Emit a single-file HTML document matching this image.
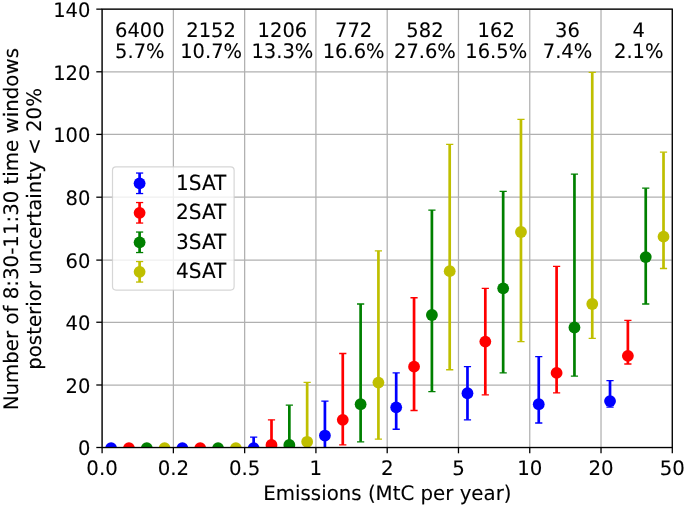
<!DOCTYPE html>
<html><head><meta charset="utf-8"><title>Figure</title>
<style>
html,body{margin:0;padding:0;background:#fff;}
svg{display:block;}
text{font-family:"DejaVu Sans", "Liberation Sans", sans-serif;font-size:19.8px;text-rendering:geometricPrecision;fill:#000;stroke:#000;stroke-width:0.1px;stroke-linejoin:round;}
</style></head>
<body>
<svg width="685" height="508" viewBox="0 0 685 508">
<rect x="0" y="0" width="685" height="508" fill="#ffffff"/>
<defs><clipPath id="ax"><rect x="102.10" y="9.15" width="570.20" height="438.35"/></clipPath></defs>
<g stroke="#b0b0b0" stroke-width="1.25" fill="none">
<line x1="102.10" y1="9.15" x2="102.10" y2="447.50"/>
<line x1="173.38" y1="9.15" x2="173.38" y2="447.50"/>
<line x1="244.65" y1="9.15" x2="244.65" y2="447.50"/>
<line x1="315.92" y1="9.15" x2="315.92" y2="447.50"/>
<line x1="387.20" y1="9.15" x2="387.20" y2="447.50"/>
<line x1="458.47" y1="9.15" x2="458.47" y2="447.50"/>
<line x1="529.75" y1="9.15" x2="529.75" y2="447.50"/>
<line x1="601.02" y1="9.15" x2="601.02" y2="447.50"/>
<line x1="672.30" y1="9.15" x2="672.30" y2="447.50"/>
<line x1="102.10" y1="447.50" x2="672.30" y2="447.50"/>
<line x1="102.10" y1="385.00" x2="672.30" y2="385.00"/>
<line x1="102.10" y1="322.25" x2="672.30" y2="322.25"/>
<line x1="102.10" y1="260.10" x2="672.30" y2="260.10"/>
<line x1="102.10" y1="197.20" x2="672.30" y2="197.20"/>
<line x1="102.10" y1="134.40" x2="672.30" y2="134.40"/>
<line x1="102.10" y1="71.80" x2="672.30" y2="71.80"/>
<line x1="102.10" y1="9.15" x2="672.30" y2="9.15"/>
</g>
<g clip-path="url(#ax)">
<circle cx="111.10" cy="448.05" r="5.9" fill="#0000ff"/>
<circle cx="128.95" cy="448.05" r="5.9" fill="#ff0000"/>
<circle cx="146.80" cy="448.05" r="5.9" fill="#008000"/>
<circle cx="164.60" cy="448.05" r="5.9" fill="#bfbf00"/>
<circle cx="182.38" cy="448.05" r="5.9" fill="#0000ff"/>
<circle cx="200.22" cy="448.05" r="5.9" fill="#ff0000"/>
<circle cx="218.07" cy="448.05" r="5.9" fill="#008000"/>
<circle cx="235.88" cy="448.05" r="5.9" fill="#bfbf00"/>
<line x1="253.65" y1="448.05" x2="253.65" y2="437.09" stroke="#0000ff" stroke-width="2.7"/>
<line x1="250.05" y1="448.05" x2="257.25" y2="448.05" stroke="#0000ff" stroke-width="1.3"/>
<line x1="250.05" y1="437.09" x2="257.25" y2="437.09" stroke="#0000ff" stroke-width="1.3"/>
<circle cx="253.65" cy="448.05" r="5.9" fill="#0000ff"/>
<line x1="271.50" y1="448.05" x2="271.50" y2="419.87" stroke="#ff0000" stroke-width="2.7"/>
<line x1="267.90" y1="448.05" x2="275.10" y2="448.05" stroke="#ff0000" stroke-width="1.3"/>
<line x1="267.90" y1="419.87" x2="275.10" y2="419.87" stroke="#ff0000" stroke-width="1.3"/>
<circle cx="271.50" cy="444.92" r="5.9" fill="#ff0000"/>
<line x1="289.35" y1="448.05" x2="289.35" y2="405.15" stroke="#008000" stroke-width="2.7"/>
<line x1="285.75" y1="448.05" x2="292.95" y2="448.05" stroke="#008000" stroke-width="1.3"/>
<line x1="285.75" y1="405.15" x2="292.95" y2="405.15" stroke="#008000" stroke-width="1.3"/>
<circle cx="289.35" cy="444.92" r="5.9" fill="#008000"/>
<line x1="307.15" y1="448.05" x2="307.15" y2="382.30" stroke="#bfbf00" stroke-width="2.7"/>
<line x1="303.55" y1="448.05" x2="310.75" y2="448.05" stroke="#bfbf00" stroke-width="1.3"/>
<line x1="303.55" y1="382.30" x2="310.75" y2="382.30" stroke="#bfbf00" stroke-width="1.3"/>
<circle cx="307.15" cy="441.79" r="5.9" fill="#bfbf00"/>
<line x1="324.92" y1="448.05" x2="324.92" y2="401.08" stroke="#0000ff" stroke-width="2.7"/>
<line x1="321.32" y1="448.05" x2="328.52" y2="448.05" stroke="#0000ff" stroke-width="1.3"/>
<line x1="321.32" y1="401.08" x2="328.52" y2="401.08" stroke="#0000ff" stroke-width="1.3"/>
<circle cx="324.92" cy="435.53" r="5.9" fill="#0000ff"/>
<line x1="342.77" y1="444.92" x2="342.77" y2="353.49" stroke="#ff0000" stroke-width="2.7"/>
<line x1="339.17" y1="444.92" x2="346.38" y2="444.92" stroke="#ff0000" stroke-width="1.3"/>
<line x1="339.17" y1="353.49" x2="346.38" y2="353.49" stroke="#ff0000" stroke-width="1.3"/>
<circle cx="342.77" cy="419.87" r="5.9" fill="#ff0000"/>
<line x1="360.62" y1="441.79" x2="360.62" y2="304.02" stroke="#008000" stroke-width="2.7"/>
<line x1="357.02" y1="441.79" x2="364.22" y2="441.79" stroke="#008000" stroke-width="1.3"/>
<line x1="357.02" y1="304.02" x2="364.22" y2="304.02" stroke="#008000" stroke-width="1.3"/>
<circle cx="360.62" cy="404.22" r="5.9" fill="#008000"/>
<line x1="378.42" y1="439.13" x2="378.42" y2="250.79" stroke="#bfbf00" stroke-width="2.7"/>
<line x1="374.82" y1="439.13" x2="382.02" y2="439.13" stroke="#bfbf00" stroke-width="1.3"/>
<line x1="374.82" y1="250.79" x2="382.02" y2="250.79" stroke="#bfbf00" stroke-width="1.3"/>
<circle cx="378.42" cy="382.61" r="5.9" fill="#bfbf00"/>
<line x1="396.20" y1="429.26" x2="396.20" y2="372.90" stroke="#0000ff" stroke-width="2.7"/>
<line x1="392.60" y1="429.26" x2="399.80" y2="429.26" stroke="#0000ff" stroke-width="1.3"/>
<line x1="392.60" y1="372.90" x2="399.80" y2="372.90" stroke="#0000ff" stroke-width="1.3"/>
<circle cx="396.20" cy="407.35" r="5.9" fill="#0000ff"/>
<line x1="414.05" y1="410.48" x2="414.05" y2="297.76" stroke="#ff0000" stroke-width="2.7"/>
<line x1="410.45" y1="410.48" x2="417.65" y2="410.48" stroke="#ff0000" stroke-width="1.3"/>
<line x1="410.45" y1="297.76" x2="417.65" y2="297.76" stroke="#ff0000" stroke-width="1.3"/>
<circle cx="414.05" cy="366.64" r="5.9" fill="#ff0000"/>
<line x1="431.90" y1="391.69" x2="431.90" y2="210.09" stroke="#008000" stroke-width="2.7"/>
<line x1="428.30" y1="391.69" x2="435.50" y2="391.69" stroke="#008000" stroke-width="1.3"/>
<line x1="428.30" y1="210.09" x2="435.50" y2="210.09" stroke="#008000" stroke-width="1.3"/>
<circle cx="431.90" cy="314.98" r="5.9" fill="#008000"/>
<line x1="449.70" y1="369.77" x2="449.70" y2="144.34" stroke="#bfbf00" stroke-width="2.7"/>
<line x1="446.10" y1="369.77" x2="453.30" y2="369.77" stroke="#bfbf00" stroke-width="1.3"/>
<line x1="446.10" y1="144.34" x2="453.30" y2="144.34" stroke="#bfbf00" stroke-width="1.3"/>
<circle cx="449.70" cy="271.14" r="5.9" fill="#bfbf00"/>
<line x1="467.47" y1="419.87" x2="467.47" y2="366.64" stroke="#0000ff" stroke-width="2.7"/>
<line x1="463.87" y1="419.87" x2="471.07" y2="419.87" stroke="#0000ff" stroke-width="1.3"/>
<line x1="463.87" y1="366.64" x2="471.07" y2="366.64" stroke="#0000ff" stroke-width="1.3"/>
<circle cx="467.47" cy="393.26" r="5.9" fill="#0000ff"/>
<line x1="485.32" y1="394.82" x2="485.32" y2="288.37" stroke="#ff0000" stroke-width="2.7"/>
<line x1="481.72" y1="394.82" x2="488.92" y2="394.82" stroke="#ff0000" stroke-width="1.3"/>
<line x1="481.72" y1="288.37" x2="488.92" y2="288.37" stroke="#ff0000" stroke-width="1.3"/>
<circle cx="485.32" cy="341.59" r="5.9" fill="#ff0000"/>
<line x1="503.17" y1="372.90" x2="503.17" y2="191.30" stroke="#008000" stroke-width="2.7"/>
<line x1="499.57" y1="372.90" x2="506.77" y2="372.90" stroke="#008000" stroke-width="1.3"/>
<line x1="499.57" y1="191.30" x2="506.77" y2="191.30" stroke="#008000" stroke-width="1.3"/>
<circle cx="503.17" cy="288.37" r="5.9" fill="#008000"/>
<line x1="520.97" y1="341.59" x2="520.97" y2="119.29" stroke="#bfbf00" stroke-width="2.7"/>
<line x1="517.37" y1="341.59" x2="524.57" y2="341.59" stroke="#bfbf00" stroke-width="1.3"/>
<line x1="517.37" y1="119.29" x2="524.57" y2="119.29" stroke="#bfbf00" stroke-width="1.3"/>
<circle cx="520.97" cy="232.01" r="5.9" fill="#bfbf00"/>
<line x1="538.75" y1="423.00" x2="538.75" y2="356.62" stroke="#0000ff" stroke-width="2.7"/>
<line x1="535.15" y1="423.00" x2="542.35" y2="423.00" stroke="#0000ff" stroke-width="1.3"/>
<line x1="535.15" y1="356.62" x2="542.35" y2="356.62" stroke="#0000ff" stroke-width="1.3"/>
<circle cx="538.75" cy="404.22" r="5.9" fill="#0000ff"/>
<line x1="556.60" y1="392.94" x2="556.60" y2="266.45" stroke="#ff0000" stroke-width="2.7"/>
<line x1="553.00" y1="392.94" x2="560.20" y2="392.94" stroke="#ff0000" stroke-width="1.3"/>
<line x1="553.00" y1="266.45" x2="560.20" y2="266.45" stroke="#ff0000" stroke-width="1.3"/>
<circle cx="556.60" cy="372.90" r="5.9" fill="#ff0000"/>
<line x1="574.45" y1="376.04" x2="574.45" y2="174.08" stroke="#008000" stroke-width="2.7"/>
<line x1="570.85" y1="376.04" x2="578.05" y2="376.04" stroke="#008000" stroke-width="1.3"/>
<line x1="570.85" y1="174.08" x2="578.05" y2="174.08" stroke="#008000" stroke-width="1.3"/>
<circle cx="574.45" cy="327.50" r="5.9" fill="#008000"/>
<line x1="592.25" y1="338.46" x2="592.25" y2="72.32" stroke="#bfbf00" stroke-width="2.7"/>
<line x1="588.65" y1="338.46" x2="595.85" y2="338.46" stroke="#bfbf00" stroke-width="1.3"/>
<line x1="588.65" y1="72.32" x2="595.85" y2="72.32" stroke="#bfbf00" stroke-width="1.3"/>
<circle cx="592.25" cy="304.02" r="5.9" fill="#bfbf00"/>
<line x1="610.02" y1="407.03" x2="610.02" y2="380.58" stroke="#0000ff" stroke-width="2.7"/>
<line x1="606.42" y1="407.03" x2="613.62" y2="407.03" stroke="#0000ff" stroke-width="1.3"/>
<line x1="606.42" y1="380.58" x2="613.62" y2="380.58" stroke="#0000ff" stroke-width="1.3"/>
<circle cx="610.02" cy="401.08" r="5.9" fill="#0000ff"/>
<line x1="627.88" y1="363.98" x2="627.88" y2="320.46" stroke="#ff0000" stroke-width="2.7"/>
<line x1="624.27" y1="363.98" x2="631.48" y2="363.98" stroke="#ff0000" stroke-width="1.3"/>
<line x1="624.27" y1="320.46" x2="631.48" y2="320.46" stroke="#ff0000" stroke-width="1.3"/>
<circle cx="627.88" cy="355.84" r="5.9" fill="#ff0000"/>
<line x1="645.73" y1="304.02" x2="645.73" y2="188.17" stroke="#008000" stroke-width="2.7"/>
<line x1="642.12" y1="304.02" x2="649.33" y2="304.02" stroke="#008000" stroke-width="1.3"/>
<line x1="642.12" y1="188.17" x2="649.33" y2="188.17" stroke="#008000" stroke-width="1.3"/>
<circle cx="645.73" cy="257.05" r="5.9" fill="#008000"/>
<line x1="663.52" y1="268.48" x2="663.52" y2="152.16" stroke="#bfbf00" stroke-width="2.7"/>
<line x1="659.92" y1="268.48" x2="667.12" y2="268.48" stroke="#bfbf00" stroke-width="1.3"/>
<line x1="659.92" y1="152.16" x2="667.12" y2="152.16" stroke="#bfbf00" stroke-width="1.3"/>
<circle cx="663.52" cy="236.70" r="5.9" fill="#bfbf00"/>
</g>
<rect x="102.10" y="9.15" width="570.20" height="438.35" fill="none" stroke="#000" stroke-width="1.3"/>
<g stroke="#000" stroke-width="1.3">
<line x1="102.10" y1="447.50" x2="102.10" y2="453.30"/>
<line x1="173.38" y1="447.50" x2="173.38" y2="453.30"/>
<line x1="244.65" y1="447.50" x2="244.65" y2="453.30"/>
<line x1="315.92" y1="447.50" x2="315.92" y2="453.30"/>
<line x1="387.20" y1="447.50" x2="387.20" y2="453.30"/>
<line x1="458.47" y1="447.50" x2="458.47" y2="453.30"/>
<line x1="529.75" y1="447.50" x2="529.75" y2="453.30"/>
<line x1="601.02" y1="447.50" x2="601.02" y2="453.30"/>
<line x1="672.30" y1="447.50" x2="672.30" y2="453.30"/>
<line x1="96.30" y1="447.50" x2="102.10" y2="447.50"/>
<line x1="96.30" y1="385.00" x2="102.10" y2="385.00"/>
<line x1="96.30" y1="322.25" x2="102.10" y2="322.25"/>
<line x1="96.30" y1="260.10" x2="102.10" y2="260.10"/>
<line x1="96.30" y1="197.20" x2="102.10" y2="197.20"/>
<line x1="96.30" y1="134.40" x2="102.10" y2="134.40"/>
<line x1="96.30" y1="71.80" x2="102.10" y2="71.80"/>
<line x1="96.30" y1="9.15" x2="102.10" y2="9.15"/>
</g>
<text transform="translate(102.10 474.50) scale(1 1.01)" text-anchor="middle">0.0</text>
<text transform="translate(173.38 474.50) scale(1 1.01)" text-anchor="middle">0.2</text>
<text transform="translate(244.65 474.50) scale(1 1.01)" text-anchor="middle">0.5</text>
<text transform="translate(315.92 474.50) scale(1 1.01)" text-anchor="middle">1</text>
<text transform="translate(387.20 474.50) scale(1 1.01)" text-anchor="middle">2</text>
<text transform="translate(458.47 474.50) scale(1 1.01)" text-anchor="middle">5</text>
<text transform="translate(529.75 474.50) scale(1 1.01)" text-anchor="middle">10</text>
<text transform="translate(601.02 474.50) scale(1 1.01)" text-anchor="middle">20</text>
<text transform="translate(672.30 474.50) scale(1 1.01)" text-anchor="middle">50</text>
<text transform="translate(90.40 455.40) scale(0.985 1.01)" text-anchor="end">0</text>
<text transform="translate(90.40 392.78) scale(0.985 1.01)" text-anchor="end">20</text>
<text transform="translate(90.40 330.16) scale(0.985 1.01)" text-anchor="end">40</text>
<text transform="translate(90.40 267.54) scale(0.985 1.01)" text-anchor="end">60</text>
<text transform="translate(90.40 204.91) scale(0.985 1.01)" text-anchor="end">80</text>
<text transform="translate(90.40 142.29) scale(0.985 1.01)" text-anchor="end">100</text>
<text transform="translate(90.40 79.67) scale(0.985 1.01)" text-anchor="end">120</text>
<text transform="translate(90.40 17.05) scale(0.985 1.01)" text-anchor="end">140</text>
<text transform="translate(139.84 36.60) scale(0.985 1.01)" text-anchor="middle">6400</text>
<text transform="translate(139.84 58.30) scale(0.985 1.01)" text-anchor="middle">5.7%</text>
<text transform="translate(211.11 36.60) scale(0.985 1.01)" text-anchor="middle">2152</text>
<text transform="translate(211.11 58.30) scale(0.985 1.01)" text-anchor="middle">10.7%</text>
<text transform="translate(282.39 36.60) scale(0.985 1.01)" text-anchor="middle">1206</text>
<text transform="translate(282.39 58.30) scale(0.985 1.01)" text-anchor="middle">13.3%</text>
<text transform="translate(353.66 36.60) scale(0.985 1.01)" text-anchor="middle">772</text>
<text transform="translate(353.66 58.30) scale(0.985 1.01)" text-anchor="middle">16.6%</text>
<text transform="translate(424.94 36.60) scale(0.985 1.01)" text-anchor="middle">582</text>
<text transform="translate(424.94 58.30) scale(0.985 1.01)" text-anchor="middle">27.6%</text>
<text transform="translate(496.21 36.60) scale(0.985 1.01)" text-anchor="middle">162</text>
<text transform="translate(496.21 58.30) scale(0.985 1.01)" text-anchor="middle">16.5%</text>
<text transform="translate(567.49 36.60) scale(0.985 1.01)" text-anchor="middle">36</text>
<text transform="translate(567.49 58.30) scale(0.985 1.01)" text-anchor="middle">7.4%</text>
<text transform="translate(638.76 36.60) scale(0.985 1.01)" text-anchor="middle">4</text>
<text transform="translate(638.76 58.30) scale(0.985 1.01)" text-anchor="middle">2.1%</text>
<text transform="translate(387.40 500.00) scale(1 1.01)" text-anchor="middle">Emissions (MtC per year)</text>
<text transform="translate(18.45 229.22) rotate(-90) scale(1 1.01)" text-anchor="middle">Number of 8:30-11:30 time windows</text>
<text transform="translate(40.7 228.92) rotate(-90) scale(1 1.01)" text-anchor="middle">posterior uncertainty &lt; 20%</text>
<rect x="112.5" y="166.85" width="121.6" height="123.25" rx="3.5" ry="3.5" fill="#ffffff" fill-opacity="0.8" stroke="#cccccc" stroke-opacity="0.8" stroke-width="1.2"/>
<line x1="139.60" y1="173.05" x2="139.60" y2="193.55" stroke="#0000ff" stroke-width="2.7"/>
<line x1="136.00" y1="173.05" x2="143.20" y2="173.05" stroke="#0000ff" stroke-width="1.3"/>
<line x1="136.00" y1="193.55" x2="143.20" y2="193.55" stroke="#0000ff" stroke-width="1.3"/>
<circle cx="139.60" cy="183.30" r="5.9" fill="#0000ff"/>
<text transform="translate(176.00 189.50) scale(1.015 1.05)">1SAT</text>
<line x1="139.60" y1="202.55" x2="139.60" y2="223.05" stroke="#ff0000" stroke-width="2.7"/>
<line x1="136.00" y1="202.55" x2="143.20" y2="202.55" stroke="#ff0000" stroke-width="1.3"/>
<line x1="136.00" y1="223.05" x2="143.20" y2="223.05" stroke="#ff0000" stroke-width="1.3"/>
<circle cx="139.60" cy="212.80" r="5.9" fill="#ff0000"/>
<text transform="translate(176.00 219.00) scale(1.015 1.05)">2SAT</text>
<line x1="139.60" y1="232.05" x2="139.60" y2="252.55" stroke="#008000" stroke-width="2.7"/>
<line x1="136.00" y1="232.05" x2="143.20" y2="232.05" stroke="#008000" stroke-width="1.3"/>
<line x1="136.00" y1="252.55" x2="143.20" y2="252.55" stroke="#008000" stroke-width="1.3"/>
<circle cx="139.60" cy="242.30" r="5.9" fill="#008000"/>
<text transform="translate(176.00 248.50) scale(1.015 1.05)">3SAT</text>
<line x1="139.60" y1="261.55" x2="139.60" y2="282.05" stroke="#bfbf00" stroke-width="2.7"/>
<line x1="136.00" y1="261.55" x2="143.20" y2="261.55" stroke="#bfbf00" stroke-width="1.3"/>
<line x1="136.00" y1="282.05" x2="143.20" y2="282.05" stroke="#bfbf00" stroke-width="1.3"/>
<circle cx="139.60" cy="271.80" r="5.9" fill="#bfbf00"/>
<text transform="translate(176.00 278.00) scale(1.015 1.05)">4SAT</text>
</svg>
</body></html>
